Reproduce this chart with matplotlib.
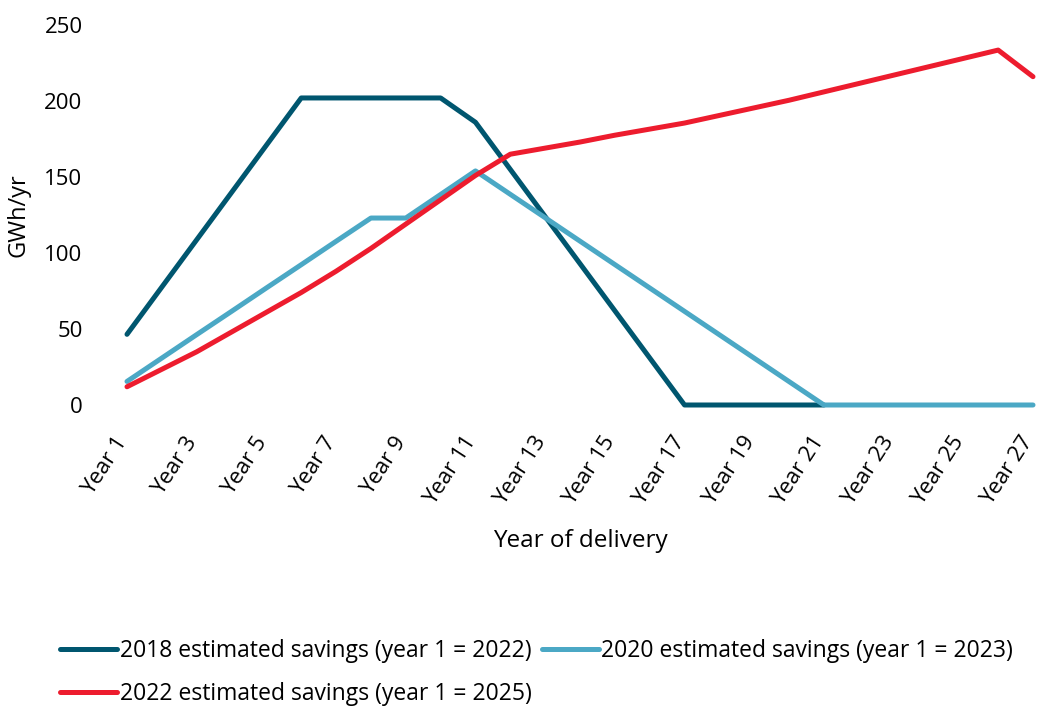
import matplotlib
matplotlib.use('agg')
import matplotlib.pyplot as plt
import matplotlib.transforms as mtransforms
import numpy as np

plt.rcParams['font.family'] = ['Open Sans', 'DejaVu Sans']

# data (GWh/yr by year of delivery)
years = list(range(1, 28))
year_labels = ['Year %d' % y for y in years]
savings_2018 = [46.5, 77.6, 108.7, 139.8, 170.9, 202, 202, 202, 202, 202,
                186, 155, 124, 93, 62, 31, 0, 0, 0, 0,
                0, None, None, None, None, None, None]
savings_2020 = [15.5, 30.9, 46.3, 61.6, 77.0, 92.3, 107.7, 123, 123, 138.5,
                154, 138.6, 123.2, 107.8, 92.4, 77, 61.6, 46.2, 30.8, 15.4,
                0, 0, 0, 0, 0, 0, 0]
savings_2022 = [12, 23.5, 35, 48, 61, 74, 88, 103, 119, 135,
                151, 165, 169, 173, 177.5, 181.5, 185.5, 190.5, 195.5, 200.5,
                206, 211.5, 217, 222.5, 228, 233.5, 216]
series_names = ['2018 estimated savings (year 1 = 2022)',
                '2020 estimated savings (year 1 = 2023)',
                '2022 estimated savings (year 1 = 2025)']
colors = ['#00566F', '#4BA8C5', '#ED1C2E']

fig = plt.figure(figsize=(10.38, 7.09), dpi=100)
ax = fig.add_axes([127 / 1038, 1 - 405 / 709, (1033 - 127) / 1038, 380 / 709])

lines = []
for vals, name, col in zip([savings_2018, savings_2020, savings_2022], series_names, colors):
    y = np.array([np.nan if v is None else v for v in vals], dtype=float)
    ln, = ax.plot(years, y, color=col, lw=3.6, label=name, clip_on=False,
                  solid_capstyle='round', solid_joinstyle='round')
    lines.append(ln)

ax.set_xlim(1, 27)
ax.set_ylim(0, 250)
ax.set_yticks(range(0, 251, 50))
ax.set_xticks(years[::2])
ax.set_xticklabels(year_labels[::2], rotation=57, ha='right', va='center',
                   rotation_mode='anchor')
for s in ax.spines.values():
    s.set_visible(False)
ax.tick_params(axis='both', length=0, labelsize=16, colors='#000000')
ax.tick_params(axis='y', pad=32)
ax.tick_params(axis='x', pad=24)

# nudge rotated labels a few px left so the last one stays inside the figure
shift = mtransforms.ScaledTranslation(-4 / 100, 0, fig.dpi_scale_trans)
for lbl in ax.get_xticklabels():
    lbl.set_transform(lbl.get_transform() + shift)

ax.set_ylabel('GWh/yr', fontsize=17)
ax.yaxis.set_label_coords(-0.106, 0.5)
ax.set_xlabel('Year of delivery', fontsize=17.5, labelpad=14)

# matplotlib fills legend columns first, so reorder to get row-major layout
order = [0, 2, 1]
fig.legend([lines[i] for i in order], [series_names[i] for i in order],
           loc='upper left', bbox_to_anchor=(60 / 1038, 1 - 639 / 709), ncol=2,
           frameon=False, fontsize=16.5, handlelength=2.5, handletextpad=0.1,
           columnspacing=0.45, labelspacing=0.85, borderpad=0, borderaxespad=0)

fig.savefig('out.png', dpi=100)
